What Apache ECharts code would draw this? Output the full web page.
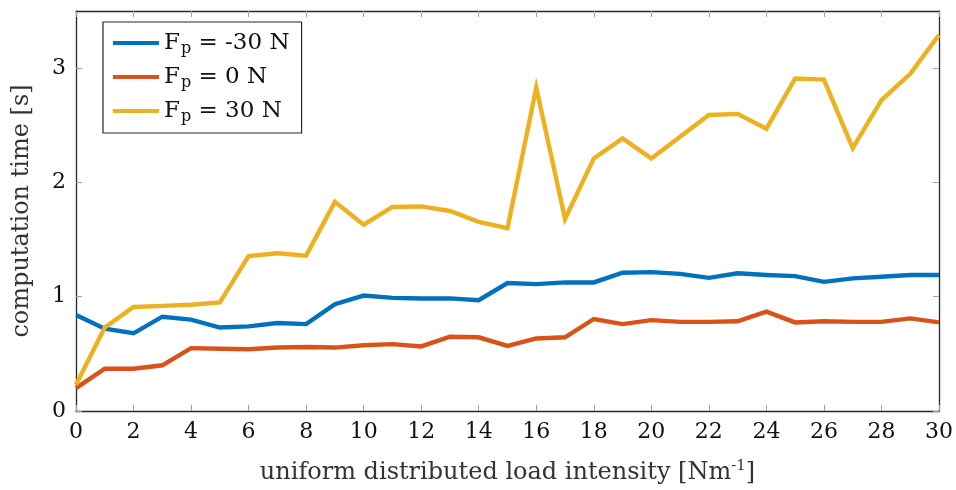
<!DOCTYPE html>
<html>
<head>
<meta charset="utf-8">
<script src="https://cdn.jsdelivr.net/npm/echarts@6/dist/echarts.min.js"></script>
<style>
  html, body { margin: 0; padding: 0; background: #fff; }
  #chart { width: 956px; height: 490px; }
</style>
</head>
<body>
<div id="chart"></div>
<script>
// load intensity [N/m]
const loads = [0, 1, 2, 3, 4, 5, 6, 7, 8, 9, 10, 11, 12, 13, 14, 15, 16, 17, 18, 19, 20, 21, 22, 23, 24, 25, 26, 27, 28, 29, 30];

// computation time [s] for each pre-load force
const timeMinus30 = [0.84, 0.72, 0.68, 0.825, 0.80, 0.73, 0.74, 0.77, 0.76, 0.935, 1.01,
  0.99, 0.985, 0.985, 0.97, 1.12, 1.11, 1.125, 1.125, 1.21, 1.215,
  1.20, 1.165, 1.205, 1.19, 1.18, 1.13, 1.16, 1.175, 1.19, 1.19];
const time0 = [0.20, 0.37, 0.37, 0.40, 0.55, 0.545, 0.54, 0.555, 0.56, 0.555, 0.575,
  0.585, 0.565, 0.65, 0.645, 0.57, 0.635, 0.645, 0.805, 0.76, 0.795,
  0.78, 0.78, 0.785, 0.87, 0.775, 0.785, 0.78, 0.78, 0.81, 0.775];
const timePlus30 = [0.23, 0.73, 0.91, 0.92, 0.93, 0.95, 1.355, 1.38, 1.36, 1.83, 1.63,
  1.785, 1.79, 1.75, 1.655, 1.60, 2.83, 1.68, 2.21, 2.385, 2.21,
  2.40, 2.59, 2.60, 2.47, 2.91, 2.90, 2.30, 2.72, 2.95, 3.29];

const forceLabels = ['-30', '0', '30'];
const colors = ['#0072BD', '#D95319', '#EDB120'];

const xTicks = [0, 2, 4, 6, 8, 10, 12, 14, 16, 18, 20, 22, 24, 26, 28, 30];
const yTicks = [0, 1, 2, 3];

const FONT = 'DejaVu Serif';
const axisColor = '#262626';
const tickColor = '#a0a0a0';

function pairs(ys) { return loads.map((x, i) => [x, ys[i]]); }

const seriesData = [timeMinus30, time0, timePlus30];

function frameAxis(ticks, extra) {
  return Object.assign({
    type: 'value',
    axisLine: { show: true, onZero: false, lineStyle: { color: axisColor, width: 1.3 } },
    axisTick: { show: true, inside: true, length: 6, customValues: ticks, lineStyle: { color: tickColor, width: 1 } },
    splitLine: { show: false }
  }, extra);
}

const option = {
  backgroundColor: '#ffffff',
  animation: false,
  grid: { left: 76, right: 17, top: 11, bottom: 79, containLabel: false },
  legend: {
    left: 103, top: 22,
    orient: 'vertical',
    padding: [8, 12, 8, 10],
    itemGap: 7,
    itemWidth: 46,
    itemHeight: 4,
    borderColor: axisColor,
    borderWidth: 1.2,
    backgroundColor: '#ffffff',
    icon: 'rect',
    data: forceLabels,
    formatter: name => '{t|F}{s|p}{t| = ' + name + ' N}',
    textStyle: {
      fontFamily: FONT,
      color: '#111',
      rich: {
        t: { fontFamily: FONT, fontSize: 23, color: '#111', lineHeight: 28 },
        s: { fontFamily: FONT, fontSize: 16, color: '#111', verticalAlign: 'bottom', padding: [11, 0, 0, 1], lineHeight: 28 }
      }
    }
  },
  xAxis: [
    frameAxis(xTicks, {
      position: 'bottom', min: 0, max: 30, interval: 2,
      axisLabel: { fontFamily: FONT, fontSize: 22, color: '#111', margin: 10, customValues: xTicks },
      name: 'uniform distributed load intensity [Nm{sup|-1}]',
      nameLocation: 'middle', nameGap: 48,
      nameTextStyle: {
        fontFamily: FONT, fontSize: 24, color: '#333',
        rich: { sup: { fontFamily: FONT, fontSize: 15, color: '#333', verticalAlign: 'top', padding: [0, 0, 12, 0] } }
      }
    }),
    frameAxis(xTicks, {
      position: 'top', min: 0, max: 30, interval: 2,
      axisLabel: { show: false }
    })
  ],
  yAxis: [
    frameAxis(yTicks, {
      position: 'left', min: 0, max: 3.5, interval: 1,
      axisLabel: { fontFamily: FONT, fontSize: 22, color: '#111', margin: 10, customValues: yTicks },
      name: 'computation time [s]',
      nameLocation: 'middle', nameGap: 42, nameRotate: 90,
      nameTextStyle: { fontFamily: FONT, fontSize: 24, color: '#333' }
    }),
    frameAxis(yTicks, {
      position: 'right', min: 0, max: 3.5, interval: 1,
      axisLabel: { show: false }
    })
  ],
  series: forceLabels.map((name, k) => ({
    name: name,
    type: 'line',
    xAxisIndex: 0,
    yAxisIndex: 0,
    data: pairs(seriesData[k]),
    showSymbol: false,
    symbol: 'none',
    color: colors[k],
    lineStyle: { color: colors[k], width: 4.4, join: 'miter' },
    clip: true
  }))
};

const chart = echarts.init(document.getElementById('chart'), null, { renderer: 'canvas' });
chart.setOption(option);
</script>
</body>
</html>
